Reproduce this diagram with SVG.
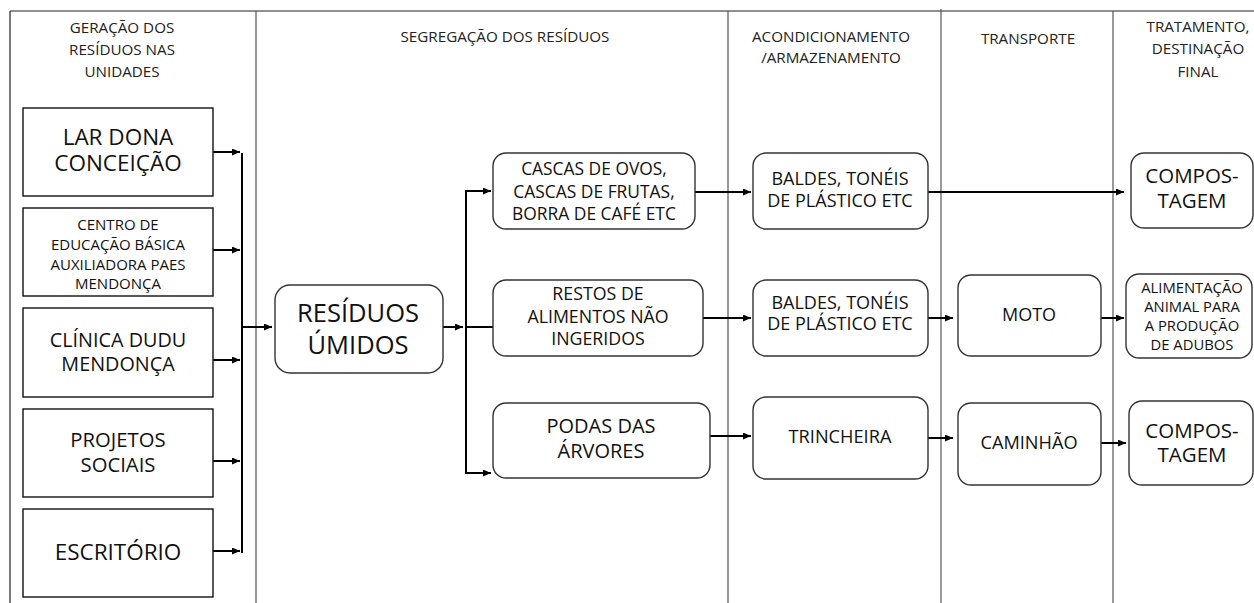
<svg xmlns="http://www.w3.org/2000/svg" width="1254" height="603" viewBox="0 0 1254 603">
<style>
text{font-family:"Open Sans","Noto Sans",sans-serif;fill:#111;text-anchor:middle}
.h{font-size:15.2px;fill:#222}
.rect{fill:#fff;stroke:#111;stroke-width:1.4}
.rbox{fill:#fff;stroke:#333;stroke-width:1.4}
.div{stroke:#555;stroke-width:1.2;fill:none}
.conn{stroke:#000;stroke-width:2;fill:none}
</style>
<defs>
<marker id="ah" markerUnits="userSpaceOnUse" markerWidth="9" markerHeight="8" refX="8" refY="3.5" orient="auto">
<path d="M0,0 L8,3.5 L0,7 z" fill="#000"/>
</marker>
</defs>
<rect width="1254" height="603" fill="#fff"/>
<g id="frame">
<line class="div" x1="10" y1="11" x2="1254" y2="11" style="stroke:#222"/>
<line class="div" x1="10" y1="11" x2="10" y2="603" style="stroke:#222"/>
<line class="div" x1="256" y1="11" x2="256" y2="603"/>
<line class="div" x1="728" y1="11" x2="728" y2="603"/>
<line class="div" x1="941" y1="9" x2="941" y2="603"/>
<line class="div" x1="1113" y1="11" x2="1113" y2="603"/>
</g>
<g id="headers">
<text class="h" x="122" y="33">GERAÇÃO DOS</text>
<text class="h" x="122" y="55">RESÍDUOS NAS</text>
<text class="h" x="122" y="77">UNIDADES</text>
<text class="h" x="505" y="42">SEGREGAÇÃO DOS RESÍDUOS</text>
<text class="h" x="831" y="42">ACONDICIONAMENTO</text>
<text class="h" x="831" y="63">/ARMAZENAMENTO</text>
<text class="h" x="1028" y="44">TRANSPORTE</text>
<text class="h" x="1198" y="32">TRATAMENTO,</text>
<text class="h" x="1198" y="54">DESTINAÇÃO</text>
<text class="h" x="1198" y="77">FINAL</text>
</g>
<g id="connectors">
<line class="conn" x1="213" y1="152" x2="240" y2="152" marker-end="url(#ah)"/>
<line class="conn" x1="213" y1="250" x2="240" y2="250" marker-end="url(#ah)"/>
<line class="conn" x1="213" y1="360" x2="240" y2="360" marker-end="url(#ah)"/>
<line class="conn" x1="213" y1="461" x2="240" y2="461" marker-end="url(#ah)"/>
<line class="conn" x1="213" y1="551" x2="240" y2="551" marker-end="url(#ah)"/>
<line class="conn" x1="242" y1="153" x2="242" y2="553"/>
<line class="conn" x1="242" y1="327" x2="272" y2="327" marker-end="url(#ah)"/>
<line class="conn" x1="443" y1="327" x2="463" y2="327" marker-end="url(#ah)"/>
<polyline class="conn" points="491,191 466,191 466,473 491,473"/>
<line class="conn" x1="466" y1="191" x2="491" y2="191" marker-end="url(#ah)"/>
<line class="conn" x1="466" y1="473" x2="491" y2="473" marker-end="url(#ah)"/>
<line class="conn" x1="466" y1="327" x2="493" y2="327"/>
<line class="conn" x1="695" y1="192" x2="751" y2="192" marker-end="url(#ah)"/>
<line class="conn" x1="928" y1="192" x2="1124" y2="192" marker-end="url(#ah)"/>
<line class="conn" x1="703" y1="318" x2="751" y2="318" marker-end="url(#ah)"/>
<line class="conn" x1="928" y1="318" x2="953" y2="318" marker-end="url(#ah)"/>
<line class="conn" x1="1101" y1="318" x2="1124" y2="318" marker-end="url(#ah)"/>
<line class="conn" x1="710" y1="436" x2="751" y2="436" marker-end="url(#ah)"/>
<line class="conn" x1="928" y1="438" x2="953" y2="438" marker-end="url(#ah)"/>
<line class="conn" x1="1101" y1="443" x2="1126" y2="443" marker-end="url(#ah)"/>
</g>
<g id="lar">
<rect class="rect" x="23" y="108" width="190" height="88"/>
<text x="118" y="145" font-size="22.5">LAR DONA</text>
<text x="118" y="171" font-size="22.5">CONCEIÇÃO</text>
</g>
<g id="centro">
<rect class="rect" x="23" y="208" width="190" height="88"/>
<text x="118" y="230" font-size="15">CENTRO DE</text>
<text x="118" y="250" font-size="15">EDUCAÇÃO BÁSICA</text>
<text x="118" y="270" font-size="15">AUXILIADORA PAES</text>
<text x="118" y="289" font-size="15">MENDONÇA</text>
</g>
<g id="clinica">
<rect class="rect" x="23" y="308" width="190" height="89"/>
<text x="118" y="347" font-size="19.8">CLÍNICA DUDU</text>
<text x="118" y="371" font-size="19.8">MENDONÇA</text>
</g>
<g id="projetos">
<rect class="rect" x="23" y="409" width="190" height="88"/>
<text x="118" y="447" font-size="20.3">PROJETOS</text>
<text x="118" y="472" font-size="20.3">SOCIAIS</text>
</g>
<g id="escritorio">
<rect class="rect" x="23" y="509" width="190" height="88"/>
<text x="118" y="560" font-size="22.5">ESCRITÓRIO</text>
</g>
<g id="residuos">
<rect class="rbox" x="275" y="285" width="168" height="88" rx="15"/>
<text x="358" y="322" font-size="25.5">RESÍDUOS</text>
<text x="358" y="354" font-size="25.5">ÚMIDOS</text>
</g>
<g id="cascas">
<rect class="rbox" x="493" y="153" width="202" height="76" rx="13"/>
<text x="594" y="175" font-size="17.4">CASCAS DE OVOS,</text>
<text x="594" y="198" font-size="17.4">CASCAS DE FRUTAS,</text>
<text x="594" y="220" font-size="17.4">BORRA DE CAFÉ ETC</text>
</g>
<g id="restos">
<rect class="rbox" x="493" y="280" width="210" height="76" rx="13"/>
<text x="598" y="300" font-size="17.8">RESTOS DE</text>
<text x="598" y="323" font-size="17.8">ALIMENTOS NÃO</text>
<text x="598" y="345" font-size="17.8">INGERIDOS</text>
</g>
<g id="podas">
<rect class="rbox" x="493" y="403" width="217" height="75" rx="13"/>
<text x="601" y="433" font-size="20">PODAS DAS</text>
<text x="601" y="458" font-size="20">ÁRVORES</text>
</g>
<g id="baldes1">
<rect class="rbox" x="753" y="153" width="175" height="76" rx="13"/>
<text x="840" y="185" font-size="18">BALDES, TONÉIS</text>
<text x="840" y="207" font-size="18">DE PLÁSTICO ETC</text>
</g>
<g id="baldes2">
<rect class="rbox" x="753" y="280" width="175" height="76" rx="13"/>
<text x="840" y="309" font-size="18">BALDES, TONÉIS</text>
<text x="840" y="330" font-size="18">DE PLÁSTICO ETC</text>
</g>
<g id="trincheira">
<rect class="rbox" x="753" y="397" width="175" height="82" rx="13"/>
<text x="840" y="443" font-size="18.2">TRINCHEIRA</text>
</g>
<g id="moto">
<rect class="rbox" x="958" y="275" width="143" height="81" rx="13"/>
<text x="1029" y="321" font-size="18">MOTO</text>
</g>
<g id="caminhao">
<rect class="rbox" x="958" y="403" width="143" height="82" rx="13"/>
<text x="1029" y="449" font-size="18.2">CAMINHÃO</text>
</g>
<g id="compostagem1">
<rect class="rbox" x="1131" y="153" width="122" height="75" rx="13"/>
<text x="1192" y="183" font-size="20.5">COMPOS-</text>
<text x="1192" y="208" font-size="20.5">TAGEM</text>
</g>
<g id="alimentacao">
<rect class="rbox" x="1126" y="274" width="126" height="84" rx="13"/>
<text x="1192" y="293" font-size="14.8">ALIMENTAÇÃO</text>
<text x="1192" y="312" font-size="14.8">ANIMAL PARA</text>
<text x="1192" y="331" font-size="14.8">A PRODUÇÃO</text>
<text x="1192" y="350" font-size="14.8">DE ADUBOS</text>
</g>
<g id="compostagem2">
<rect class="rbox" x="1129" y="401" width="124" height="84" rx="13"/>
<text x="1192" y="438" font-size="20.5">COMPOS-</text>
<text x="1192" y="462" font-size="20.5">TAGEM</text>
</g>
</svg>
